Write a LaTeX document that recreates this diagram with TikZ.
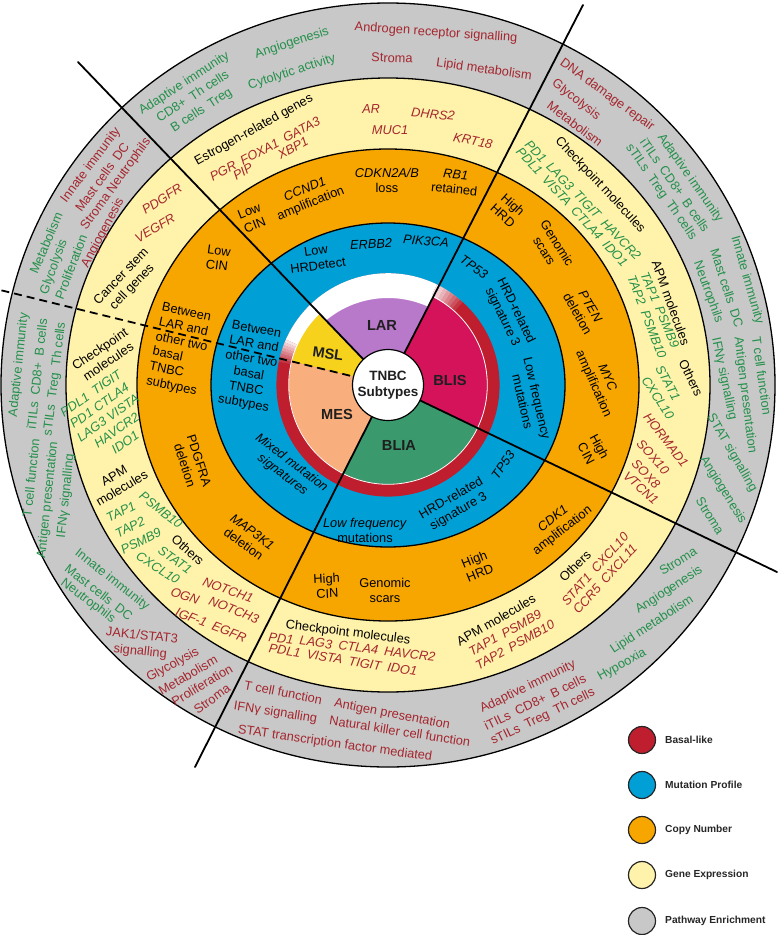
\documentclass[tikz,border=0pt]{standalone}
\usepackage{fontspec}
\setmainfont{Liberation Sans}
\usetikzlibrary{calc}
\definecolor{cgray}{HTML}{C8C8C8}
\definecolor{cyel}{HTML}{FFF2AA}
\definecolor{corg}{HTML}{F7A600}
\definecolor{cblue}{HTML}{00A0D6}
\definecolor{cred}{HTML}{BE1E2D}
\definecolor{clar}{HTML}{B879CB}
\definecolor{cmsl}{HTML}{F6D21C}
\definecolor{cblis}{HTML}{D5135B}
\definecolor{cblia}{HTML}{3A9A6E}
\definecolor{cmes}{HTML}{F9AF7D}
\definecolor{tgreen}{HTML}{23904A}
\definecolor{tred}{HTML}{A5262E}
\newcounter{tn}
\newcommand\fs{\fontsize{12.8}{15}\selectfont}
\newcommand\gfs{\fontsize{12.8}{16}\selectfont}
\newcommand\Lbl[5]{\stepcounter{tn}\node[#1,rotate=#4] (t\arabic{tn}) at (#2,#3) {#5};}
\begin{document}
\begin{tikzpicture}[x=1pt,y=-1pt,
  tx/.style={inner sep=0pt, align=center, font=\fs},
  G/.style={tx,text=tgreen,font=\gfs}, R/.style={tx,text=tred,font=\gfs}, K/.style={tx,text=black},
  GI/.style={tx,text=tgreen,font=\fs\itshape}, RI/.style={tx,text=tred,font=\fs\itshape}, KI/.style={tx,text=black,font=\fs\itshape},
  ringline/.style={line width=1.3pt},
  divline/.style={line width=1.8pt, line cap=round},
  pielbl/.style={inner sep=0pt, font=\fontsize{14.6}{16}\selectfont\bfseries, text=black!88},
  legc/.style={circle, draw=black!85, line width=1.2pt, minimum size=27pt, inner sep=0pt},
  legt/.style={anchor=west, inner sep=0pt, font=\fontsize{10.2}{12}\selectfont\bfseries, text=black!85}]
\useasboundingbox (0,0) rectangle (780,935);
\coordinate (C) at (388,385);
% rings
\draw[ringline, fill=cgray] (C) ellipse[x radius=387, y radius=382];
\draw[ringline, fill=cyel] (C) ellipse[x radius=322, y radius=307];
\draw[ringline, fill=corg] (C) ellipse[x radius=251, y radius=236];
\draw[ringline, fill=cblue] (C) ellipse[x radius=177, y radius=162];
\fill[cred] (C) circle[radius=111.6];
% pie
\begin{scope}[shift={(388,385)}, y=1pt]
 \fill[clar] (0,0) -- (62.8:99) arc[start angle=62.8, end angle=133.8, radius=99] -- cycle;
 \fill[cmsl] (0,0) -- (133.8:99) arc[start angle=133.8, end angle=166.2, radius=99] -- cycle;
 \fill[cmes] (0,0) -- (166.2:99) arc[start angle=166.2, end angle=243.2, radius=99] -- cycle;
 \fill[cblia] (0,0) -- (243.2:99) arc[start angle=243.2, end angle=334.3, radius=99] -- cycle;
 \fill[cblis] (0,0) -- (-25.7:99) arc[start angle=-25.7, end angle=62.8, radius=99] -- cycle;
 \draw[white, line width=0.8pt] (0,0) circle[radius=99.3];
 \begin{scope}
  \clip (0,0) -- (62.8:100) arc[start angle=62.8, end angle=133.8, radius=100] -- cycle;
  \fill[white, even odd rule] (0,0) circle[radius=100] (0,-10) circle[radius=97];
 \end{scope}
 \fill[white] (64:111.8) arc[start angle=64, end angle=156, radius=111.8] -- (156:98.8) arc[start angle=156, end angle=64, radius=98.8] -- cycle;
 \foreach \i in {1,...,8} {
   \pgfmathsetmacro\aa{64-\i*2}
   \pgfmathsetmacro\ab{\aa+2}
   \pgfmathsetmacro\ac{156+(\i-1)*1.5}
   \pgfmathsetmacro\ad{\ac+1.5}
   \pgfmathsetmacro\op{1-\i/9}
   \fill[white, fill opacity=\op] (\aa:111.8) arc[start angle=\aa, end angle=\ab, radius=111.8] -- (\ab:98.8) arc[start angle=\ab, end angle=\aa, radius=98.8] -- cycle;
   \fill[white, fill opacity=\op] (\ac:111.8) arc[start angle=\ac, end angle=\ad, radius=111.8] -- (\ad:98.8) arc[start angle=\ad, end angle=\ac, radius=98.8] -- cycle;
 }
\end{scope}
% dividing lines
\coordinate (e1) at (78,62);
\coordinate (e2) at (583,5);
\coordinate (e3) at (777,572);
\coordinate (e4) at (195,767);
\coordinate (e5) at (0,290);
\draw[divline] (C) -- (e1);
\draw[divline] (C) -- (e2);
\draw[divline] (C) -- (e3);
\draw[divline] (C) -- (e4);
\draw[line width=1.8pt, dash pattern=on 8pt off 5pt] (C) -- (e5);
\node[circle, draw=black, fill=white, line width=1.2pt, minimum size=71pt, inner sep=0pt, align=center, font=\fontsize{13.5}{15.5}\selectfont\bfseries, text=black!88] (ctr) at (C) {TNBC\\Subtypes};
% pie labels
\node[pielbl] (lar) at (382,325) {LAR};
\node[pielbl, rotate=-8] (msl) at (328,354) {MSL};
\node[pielbl] (blis) at (450,380) {BLIS};
\node[pielbl] (blia) at (399,445) {BLIA};
\node[pielbl] (mes) at (337,414) {MES};
% ---- gray ring
\Lbl{G}{193}{97}{33}{Adaptive immunity\\CD8+\enspace Th cells\\B cells\enspace Treg}
\Lbl{G}{292}{43}{18}{Angiogenesis}
\Lbl{G}{292}{72}{18}{Cytolytic activity}
\Lbl{R}{436}{33}{-4}{Androgen receptor signalling}
\Lbl{R}{392}{58}{-2}{Stroma}
\Lbl{R}{484}{70}{-8}{Lipid metabolism}
\Lbl{R}{607}{95}{-36}{DNA damage repair}
\Lbl{R}{576}{100}{-38}{Glycolysis}
\Lbl{R}{575}{124}{-37}{Metabolism}
\Lbl{G}{690}{178}{-55}{Adaptive immunity}
\Lbl{G}{675}{185}{-55}{iTILs\enspace CD8+\enspace B cells}
\Lbl{G}{661}{192}{-55}{sTILs\enspace Treg\enspace Th cells}
\Lbl{G}{747}{280}{-74}{Innate immunity}
\Lbl{G}{727}{288}{-72}{Mast cells\enspace DC}
\Lbl{G}{708}{292}{-70}{Neutrophils}
\Lbl{G}{762}{376}{-82}{T cell function}
\Lbl{G}{745}{395}{-83}{Antigen presentation}
\Lbl{G}{724}{379}{-78}{IFNγ signalling}
\Lbl{G}{732}{453}{-60}{STAT signalling}
\Lbl{G}{723}{490}{-58}{Angiogenesis}
\Lbl{G}{710}{516}{-58}{Stroma}
\Lbl{G}{678}{561}{32}{Stroma}
\Lbl{G}{669}{590}{33}{Angiogenesis}
\Lbl{G}{652}{625}{33}{Lipid metabolism}
\Lbl{G}{622}{665}{29}{Hypooxia}
\Lbl{R}{528}{687}{26}{Adaptive immunity}
\Lbl{R}{535}{702}{26}{iTILs\enspace CD8+\enspace B cells}
\Lbl{R}{543}{717}{26}{sTILs\enspace Treg\enspace Th cells}
\Lbl{R}{347}{706}{-11}{T cell function\quad Antigen presentation}
\Lbl{R}{352}{725}{-9}{IFNγ signalling\quad Natural killer cell function}
\Lbl{R}{335}{744}{-8}{STAT transcription factor mediated}
\Lbl{R}{141}{644}{-6}{JAK1/STAT3\\signalling}
\Lbl{R}{173}{665}{29}{Glycolysis}
\Lbl{R}{188}{675}{30}{Metabolism}
\Lbl{R}{202}{685}{31}{Proliferation}
\Lbl{R}{212}{699}{36}{Stroma}
\Lbl{G}{112}{580}{-38}{Innate immunity}
\Lbl{G}{99}{592}{-38}{Mast cells\enspace DC}
\Lbl{G}{88}{601}{-37}{Neutrophils}
\Lbl{G}{31}{478}{84}{T cell function}
\Lbl{G}{48}{500}{84}{Antigen presentation}
\Lbl{G}{66}{496}{84}{IFNγ signalling}
\Lbl{G}{19}{365}{84}{Adaptive immunity}
\Lbl{G}{37}{374}{84}{iTILs\enspace CD8+\enspace B cells}
\Lbl{G}{55}{379}{83}{sTILs\enspace Treg\enspace Th cells}
\Lbl{G}{46}{243}{67}{Metabolism}
\Lbl{R}{91}{165}{53}{Innate immunity}
\Lbl{G}{54}{267}{70}{Glycolysis}
\Lbl{R}{102}{177}{54}{Mast cells\enspace DC}
\Lbl{G}{71}{267}{69}{Proliferation}
\Lbl{R}{116}{184}{54}{Stroma Neutrophils}
\Lbl{R}{103}{233}{62}{Angiogenesis}
% ---- yellow ring
\Lbl{K}{254}{130}{29}{Estrogen-related genes}
\Lbl{RI}{265}{149}{28}{PGR\enspace FOXA1\enspace GATA3}
\Lbl{RI}{243}{172}{30}{PIP}
\Lbl{RI}{293}{148}{29}{XBP1}
\Lbl{RI}{371}{109}{2}{AR}
\Lbl{RI}{433}{114}{-6}{DHRS2}
\Lbl{RI}{390}{130}{0}{MUC1}
\Lbl{RI}{473}{141}{-12}{KRT18}
\Lbl{K}{600}{185}{-47}{Checkpoint molecules}
\Lbl{GI}{583}{200}{-46}{PD1\enspace LAG3\enspace TIGIT\enspace HAVCR2}
\Lbl{GI}{572}{207}{-47}{PDL1\enspace VISTA\enspace CTLA4\enspace IDO1}
\Lbl{K}{671}{303}{-70}{APM molecules}
\Lbl{GI}{660}{310}{-67}{TAP1\enspace PSMB9}
\Lbl{GI}{647}{317}{-69}{TAP2\enspace PSMB10}
\Lbl{K}{691}{378}{-64}{Others}
\Lbl{GI}{668}{383}{-62}{STAT1}
\Lbl{GI}{658}{398}{-57}{CXCL10}
\Lbl{RI}{666}{440}{-52}{HORMAD1}
\Lbl{RI}{653}{457}{-48}{SOX10}
\Lbl{RI}{646}{474}{-46}{SOX8}
\Lbl{RI}{641}{488}{-42}{VTCN1}
\Lbl{K}{575}{566}{45}{Others}
\Lbl{RI}{595}{569}{48}{STAT1\enspace CXCL10}
\Lbl{RI}{605}{579}{48}{CCR5\enspace CXCL11}
\Lbl{K}{496}{620}{30}{APM molecules}
\Lbl{RI}{505}{633}{29}{TAP1\enspace PSMB9}
\Lbl{RI}{515}{645}{29}{TAP2\enspace PSMB10}
\Lbl{K}{348}{633}{-7}{Checkpoint molecules}
\Lbl{RI}{352}{647}{-7}{PD1\enspace LAG3\enspace CTLA4\enspace HAVCR2}
\Lbl{RI}{343}{660}{-9}{PDL1\enspace VISTA\enspace TIGIT\enspace IDO1}
\Lbl{RI}{228}{590}{-20}{NOTCH1}
\Lbl{RI}{185}{596}{-20}{OGN}
\Lbl{RI}{234}{610}{-22}{NOTCH3}
\Lbl{RI}{211}{625}{-21}{IGF-1\enspace EGFR}
\Lbl{K}{188}{550}{-42}{Others}
\Lbl{GI}{175}{560}{-36}{STAT1}
\Lbl{GI}{158}{568}{-32}{CXCL10}
\Lbl{GI}{121}{512}{27}{TAP1}
\Lbl{GI}{161}{510}{-38}{PSMB10}
\Lbl{GI}{130}{527}{27}{TAP2}
\Lbl{GI}{141}{541}{27}{PSMB9}
\Lbl{K}{118}{482}{31}{APM\\molecules}
\Lbl{K}{104}{355}{34}{Checkpoint\\molecules}
\Lbl{GI}{108}{418}{35}{PDL1\enspace TIGIT\\PD1 CTLA4\\LAG3 VISTA\\HAVCR2\\IDO1}
\Lbl{RI}{162}{199}{33}{PDGFR}
\Lbl{RI}{155}{228}{31}{VEGFR}
\Lbl{K}{127}{282}{46}{Cancer stem\\cell genes}
% ---- orange ring
\Lbl{K}{252}{218}{22}{Low\\CIN}
\Lbl{K}{308}{197}{22}{\textit{CCND1}\\amplification}
\Lbl{K}{387}{180}{0}{\textit{CDKN2A/B}\\loss}
\Lbl{K}{455}{182}{-6}{\textit{RB1}\\retained}
\Lbl{K}{508}{210}{-42}{High\\HRD}
\Lbl{K}{551}{247}{-58}{Genomic\\scars}
\Lbl{K}{584}{310}{-60}{\textit{PTEN}\\deletion}
\Lbl{K}{600}{381}{-66}{\textit{MYC}\\amplification}
\Lbl{K}{593}{450}{-62}{High\\CIN}
\Lbl{K}{558}{525}{38}{\textit{CDK1}\\amplification}
\Lbl{K}{477}{566}{22}{High\\HRD}
\Lbl{K}{385}{590}{0}{Genomic\\scars}
\Lbl{K}{327}{586}{3}{High\\CIN}
\Lbl{K}{248}{538}{-36}{\textit{MAP3K1}\\deletion}
\Lbl{K}{192}{463}{-72}{PDGFRA\\deletion}
\Lbl{K,align=left}{180}{350}{-12}{Between\\LAR and\\other two\\basal\\TNBC\\subtypes}
\Lbl{K}{218}{258}{-8}{Low\\CIN}
% ---- blue ring
\Lbl{K}{317}{258}{8}{Low\\HRDetect}
\Lbl{KI}{371}{244}{3}{ERBB2}
\Lbl{KI}{426}{241}{-5}{PIK3CA}
\Lbl{KI}{474}{267}{-35}{TP53}
\Lbl{K}{509}{314}{-64}{HRD-related\\signature 3}
\Lbl{K}{530}{400}{-77}{Low frequency\\mutations}
\Lbl{KI}{503}{465}{55}{TP53}
\Lbl{K}{455}{505}{30}{HRD-related\\signature 3}
\Lbl{K}{365}{530}{0}{\textit{Low frequency}\\mutations}
\Lbl{KI}{287}{469}{-37}{Mixed mutation\\signatures}
\Lbl{K}{250}{367}{-10}{Between\\LAR and\\other two\\basal\\TNBC\\subtypes}
% ---- legend
\node[legc, fill=cred] (l1) at (642,740) {};
\node[legt] (l1t) at (665,740) {Basal-like};
\node[legc, fill=cblue] (l2) at (642,785) {};
\node[legt] (l2t) at (665,785) {Mutation Profile};
\node[legc, fill=corg] (l3) at (642,830) {};
\node[legt] (l3t) at (665,830) {Copy Number};
\node[legc, fill=cyel] (l4) at (642,875) {};
\node[legt] (l4t) at (665,875) {Gene Expression};
\node[legc, fill=cgray] (l5) at (642,921) {};
\node[legt] (l5t) at (665,921) {Pathway Enrichment};
\end{tikzpicture}
\end{document}
